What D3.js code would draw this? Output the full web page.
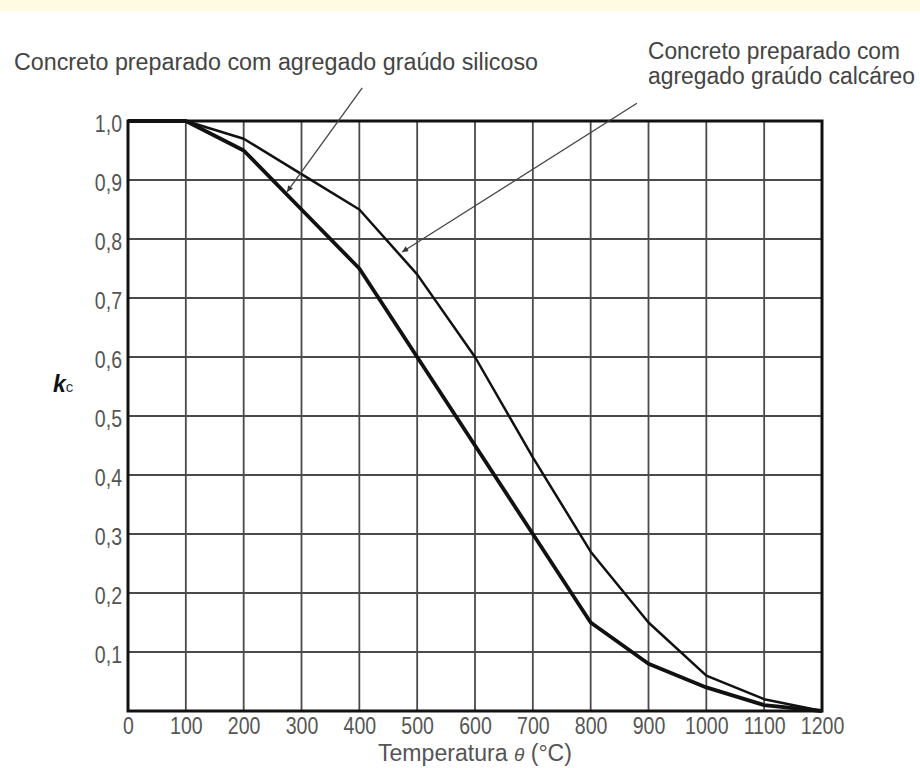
<!DOCTYPE html>
<html>
<head>
<meta charset="utf-8">
<script src="https://cdn.jsdelivr.net/npm/d3@7"></script>
<style>
  body { margin: 0; background: #fff; }
  svg { display: block; }
</style>
</head>
<body>
<div id="container"><svg></svg></div>
<script>
let width = 920;
let height = 768;
let fontFamily = "'Liberation Sans', Arial, sans-serif";

// temperatura (°C)
let temps = [0, 100, 200, 300, 400, 500, 600, 700, 800, 900, 1000, 1100, 1200];
// kc - agregado silicoso (linha grossa)
let kcSilicoso = [1.0, 1.0, 0.95, 0.85, 0.75, 0.60, 0.45, 0.30, 0.15, 0.08, 0.04, 0.01, 0.0];
// kc - agregado calcário (linha fina)
let kcCalcareo = [1.0, 1.0, 0.97, 0.91, 0.85, 0.74, 0.60, 0.43, 0.27, 0.15, 0.06, 0.02, 0.0];

let xTicks = [0, 100, 200, 300, 400, 500, 600, 700, 800, 900, 1000, 1100, 1200];
let yTicks = [0.1, 0.2, 0.3, 0.4, 0.5, 0.6, 0.7, 0.8, 0.9, 1.0];

// anotações
let noteSilicoso = ['Concreto preparado com agregado graúdo silicoso'];
let noteCalcareo = ['Concreto preparado com', 'agregado graúdo calcáreo'];
// seta: [início (temp, kc), ponta (temp, kc)]
let arrowSilicoso = [[405, 1.056], [275, 0.88]];
let arrowCalcareo = [[880, 1.03], [474, 0.778]];

// comprime texto na horizontal (fonte estreita)
function narrow(sel, k) {
    sel.each(function() {
        let w = this.getComputedTextLength();
        d3.select(this)
            .attr('textLength', w * k)
            .attr('lengthAdjust', 'spacingAndGlyphs');
    });
}

function draw_main() {
    let padding = {left: 128, right: 98, top: 121, bottom: 57};
    let svg = d3.select('#container').select('svg')
        .attr('width', width)
        .attr('height', height)
        .style('font-family', fontFamily);

    // faixa amarela no topo
    svg.append('rect')
        .attr('x', 0).attr('y', 0)
        .attr('width', width).attr('height', 11)
        .attr('fill', '#fffbe3');

    let x = d3.scaleLinear()
        .domain([0, 1200])
        .range([padding.left, width - padding.right]);
    let y = d3.scaleLinear()
        .domain([0, 1])
        .range([height - padding.bottom, padding.top]);

    // grid
    let grid = svg.append('g');
    grid.selectAll('line.v')
        .data(xTicks.slice(1, -1))
        .enter().append('line')
        .attr('x1', d => x(d)).attr('x2', d => x(d))
        .attr('y1', y(0)).attr('y2', y(1))
        .attr('stroke', '#4a4a4a')
        .attr('stroke-width', 1.8);
    grid.selectAll('line.h')
        .data(yTicks.slice(0, -1))
        .enter().append('line')
        .attr('x1', x(0)).attr('x2', x(1200))
        .attr('y1', d => y(d)).attr('y2', d => y(d))
        .attr('stroke', '#4a4a4a')
        .attr('stroke-width', 1.8);

    // axes (labels only)
    let axis_x = d3.axisBottom(x).tickValues(xTicks).tickSize(0).tickPadding(7)
        .tickFormat(d => d);
    svg.append('g')
        .attr('transform', `translate(0, ${y(0)})`)
        .call(axis_x)
        .call(g => g.select('.domain').remove())
        .selectAll('text')
        .attr('font-family', fontFamily)
        .attr('font-size', '23px')
        .attr('fill', '#555')
        .call(narrow, 0.85);

    let axis_y = d3.axisLeft(y).tickValues(yTicks).tickSize(0).tickPadding(6)
        .tickFormat(d => d3.format('.1f')(d).replace('.', ','));
    svg.append('g')
        .attr('transform', `translate(${x(0)}, 3)`)
        .call(axis_y)
        .call(g => g.select('.domain').remove())
        .selectAll('text')
        .attr('font-family', fontFamily)
        .attr('font-size', '23px')
        .attr('fill', '#555')
        .call(narrow, 0.85);

    // frame
    svg.append('rect')
        .attr('x', x(0)).attr('y', y(1))
        .attr('width', x(1200) - x(0))
        .attr('height', y(0) - y(1))
        .attr('fill', 'none')
        .attr('stroke', '#111')
        .attr('stroke-width', 3);

    // curves
    let line = d3.line()
        .x((d, i) => x(temps[i]))
        .y(d => y(d));
    svg.append('path')
        .datum(kcCalcareo)
        .attr('d', line)
        .attr('fill', 'none')
        .attr('stroke', '#111')
        .attr('stroke-width', 2.5)
        .attr('stroke-linejoin', 'round');
    svg.append('path')
        .datum(kcSilicoso)
        .attr('d', line)
        .attr('fill', 'none')
        .attr('stroke', '#111')
        .attr('stroke-width', 3.8)
        .attr('stroke-linejoin', 'round');

    // arrows
    svg.append('defs').append('marker')
        .attr('id', 'arrow')
        .attr('viewBox', '0 0 10 10')
        .attr('refX', 10).attr('refY', 5)
        .attr('markerWidth', 8).attr('markerHeight', 6)
        .attr('markerUnits', 'userSpaceOnUse')
        .attr('orient', 'auto')
        .append('path')
        .attr('d', 'M0,0 L10,5 L0,10 z')
        .attr('fill', '#333');
    [arrowSilicoso, arrowCalcareo].forEach(a => {
        svg.append('line')
            .attr('x1', x(a[0][0])).attr('y1', y(a[0][1]))
            .attr('x2', x(a[1][0])).attr('y2', y(a[1][1]))
            .attr('stroke', '#444')
            .attr('stroke-width', 1.3)
            .attr('marker-end', 'url(#arrow)');
    });

    // annotation texts
    let notes = [
        [noteSilicoso[0], 14, 70],
        [noteCalcareo[0], 648, 59],
        [noteCalcareo[1], 648, 84]
    ];
    let widths = [524, 252, 267];
    svg.append('g')
        .selectAll('text')
        .data(notes)
        .enter().append('text')
        .attr('x', d => d[1]).attr('y', d => d[2])
        .attr('font-size', '23px')
        .attr('fill', '#444')
        .attr('textLength', (d, i) => widths[i])
        .attr('lengthAdjust', 'spacingAndGlyphs')
        .text(d => d[0]);

    // y label kc
    let kc = svg.append('text')
        .attr('x', 53).attr('y', 392)
        .attr('fill', '#111');
    kc.append('tspan')
        .attr('font-size', '23px')
        .attr('font-weight', 'bold')
        .attr('font-style', 'italic')
        .text('k');
    kc.append('tspan')
        .attr('font-size', '15px')
        .attr('fill', '#333')
        .text('c');

    // x label
    let xl = svg.append('text')
        .attr('x', 475).attr('y', 761)
        .attr('text-anchor', 'middle')
        .attr('font-size', '23px')
        .attr('fill', '#555')
        .attr('textLength', 194)
        .attr('lengthAdjust', 'spacingAndGlyphs');
    xl.append('tspan').text('Temperatura ');
    xl.append('tspan').attr('font-style', 'italic').attr('font-size', '19px').text('θ');
    xl.append('tspan').text(' (°C)');
}

draw_main();
</script>
</body>
</html>
